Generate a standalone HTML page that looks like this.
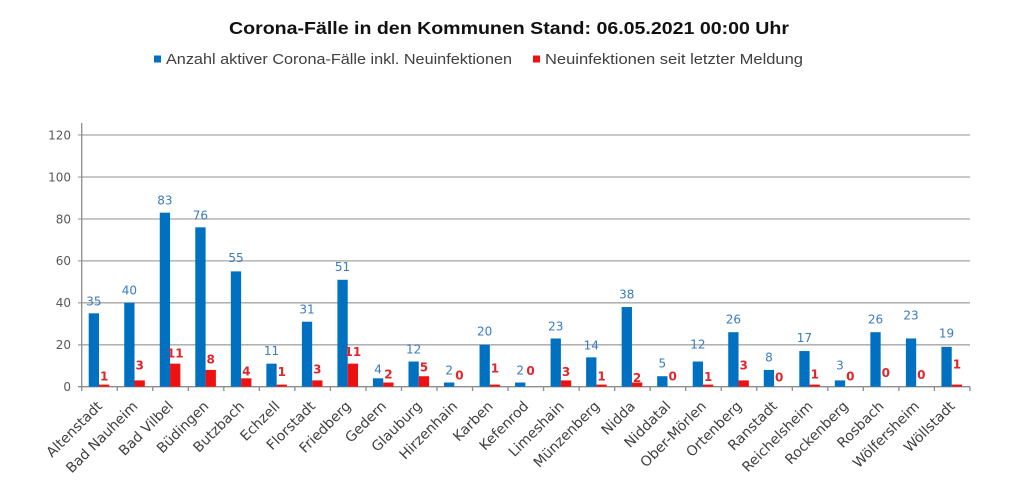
<!DOCTYPE html>
<html><head><meta charset="utf-8"><style>
html,body{margin:0;padding:0;background:#fff;}
svg{display:block;}
</style></head><body>
<svg width="1024" height="488" viewBox="0 0 1024 488" xmlns="http://www.w3.org/2000/svg">
<rect width="1024" height="488" fill="#fff"/>
<text x="229" y="34" font-family="Liberation Sans, sans-serif" font-weight="bold" font-size="17.5" fill="#111" textLength="560" lengthAdjust="spacingAndGlyphs">Corona-Fälle in den Kommunen Stand: 06.05.2021 00:00 Uhr</text>
<rect x="154" y="55.5" width="7" height="7" fill="#0070c0"/>
<text x="166" y="64" font-family="Liberation Sans, sans-serif" font-size="14.5" fill="#404040" textLength="346" lengthAdjust="spacingAndGlyphs">Anzahl aktiver Corona-Fälle inkl. Neuinfektionen</text>
<rect x="533" y="55.5" width="7" height="7" fill="#ee1111"/>
<text x="545" y="64" font-family="Liberation Sans, sans-serif" font-size="14.5" fill="#404040" textLength="258" lengthAdjust="spacingAndGlyphs">Neuinfektionen seit letzter Meldung</text>
<g stroke="#a6a6a6" stroke-width="1.3">
<line x1="78" y1="135" x2="970" y2="135"/>
<line x1="78" y1="177" x2="970" y2="177"/>
<line x1="78" y1="219" x2="970" y2="219"/>
<line x1="78" y1="260.9" x2="970" y2="260.9"/>
<line x1="78" y1="302.8" x2="970" y2="302.8"/>
<line x1="78" y1="344.8" x2="970" y2="344.8"/>
</g>
<g stroke="#8c8c8c" stroke-width="1.3">
<line x1="81.7" y1="123" x2="81.7" y2="387"/>
<line x1="78" y1="386.7" x2="970" y2="386.7"/>
<line x1="81.7" y1="386.7" x2="81.7" y2="391"/>
<line x1="117.23" y1="386.7" x2="117.23" y2="391"/>
<line x1="152.76" y1="386.7" x2="152.76" y2="391"/>
<line x1="188.29" y1="386.7" x2="188.29" y2="391"/>
<line x1="223.82" y1="386.7" x2="223.82" y2="391"/>
<line x1="259.35" y1="386.7" x2="259.35" y2="391"/>
<line x1="294.88" y1="386.7" x2="294.88" y2="391"/>
<line x1="330.41" y1="386.7" x2="330.41" y2="391"/>
<line x1="365.94" y1="386.7" x2="365.94" y2="391"/>
<line x1="401.47" y1="386.7" x2="401.47" y2="391"/>
<line x1="437" y1="386.7" x2="437" y2="391"/>
<line x1="472.53" y1="386.7" x2="472.53" y2="391"/>
<line x1="508.06" y1="386.7" x2="508.06" y2="391"/>
<line x1="543.59" y1="386.7" x2="543.59" y2="391"/>
<line x1="579.12" y1="386.7" x2="579.12" y2="391"/>
<line x1="614.65" y1="386.7" x2="614.65" y2="391"/>
<line x1="650.18" y1="386.7" x2="650.18" y2="391"/>
<line x1="685.71" y1="386.7" x2="685.71" y2="391"/>
<line x1="721.24" y1="386.7" x2="721.24" y2="391"/>
<line x1="756.77" y1="386.7" x2="756.77" y2="391"/>
<line x1="792.3" y1="386.7" x2="792.3" y2="391"/>
<line x1="827.83" y1="386.7" x2="827.83" y2="391"/>
<line x1="863.36" y1="386.7" x2="863.36" y2="391"/>
<line x1="898.89" y1="386.7" x2="898.89" y2="391"/>
<line x1="934.42" y1="386.7" x2="934.42" y2="391"/>
<line x1="969.95" y1="386.7" x2="969.95" y2="391"/>
</g>
<g font-family="DejaVu Sans, sans-serif" font-size="12" fill="#595959" text-anchor="end">
<text x="71" y="139.3">120</text>
<text x="71" y="181.3">100</text>
<text x="71" y="223.3">80</text>
<text x="71" y="265.2">60</text>
<text x="71" y="307.1">40</text>
<text x="71" y="349.1">20</text>
<text x="71" y="391">0</text>
</g>
<g fill="#0070c0">
<rect x="88.7" y="313.32" width="10.3" height="73.38"/>
<rect x="124.23" y="302.83" width="10.3" height="83.87"/>
<rect x="159.76" y="212.67" width="10.3" height="174.03"/>
<rect x="195.29" y="227.35" width="10.3" height="159.35"/>
<rect x="230.82" y="271.38" width="10.3" height="115.32"/>
<rect x="266.35" y="363.64" width="10.3" height="23.06"/>
<rect x="301.88" y="321.7" width="10.3" height="65"/>
<rect x="337.41" y="279.77" width="10.3" height="106.93"/>
<rect x="372.94" y="378.31" width="10.3" height="8.39"/>
<rect x="408.47" y="361.54" width="10.3" height="25.16"/>
<rect x="444" y="382.51" width="10.3" height="4.19"/>
<rect x="479.53" y="344.77" width="10.3" height="41.93"/>
<rect x="515.06" y="382.51" width="10.3" height="4.19"/>
<rect x="550.59" y="338.48" width="10.3" height="48.22"/>
<rect x="586.12" y="357.35" width="10.3" height="29.35"/>
<rect x="621.65" y="307.03" width="10.3" height="79.67"/>
<rect x="657.18" y="376.22" width="10.3" height="10.48"/>
<rect x="692.71" y="361.54" width="10.3" height="25.16"/>
<rect x="728.24" y="332.19" width="10.3" height="54.51"/>
<rect x="763.77" y="369.93" width="10.3" height="16.77"/>
<rect x="799.3" y="351.06" width="10.3" height="35.64"/>
<rect x="834.83" y="380.41" width="10.3" height="6.29"/>
<rect x="870.36" y="332.19" width="10.3" height="54.51"/>
<rect x="905.89" y="338.48" width="10.3" height="48.22"/>
<rect x="941.42" y="346.86" width="10.3" height="39.84"/>
</g>
<g fill="#ee1111">
<rect x="99" y="384.6" width="10.3" height="2.1"/>
<rect x="134.53" y="380.41" width="10.3" height="6.29"/>
<rect x="170.06" y="363.64" width="10.3" height="23.06"/>
<rect x="205.59" y="369.93" width="10.3" height="16.77"/>
<rect x="241.12" y="378.31" width="10.3" height="8.39"/>
<rect x="276.65" y="384.6" width="10.3" height="2.1"/>
<rect x="312.18" y="380.41" width="10.3" height="6.29"/>
<rect x="347.71" y="363.64" width="10.3" height="23.06"/>
<rect x="383.24" y="382.51" width="10.3" height="4.19"/>
<rect x="418.77" y="376.22" width="10.3" height="10.48"/>
<rect x="489.83" y="384.6" width="10.3" height="2.1"/>
<rect x="560.89" y="380.41" width="10.3" height="6.29"/>
<rect x="596.42" y="384.6" width="10.3" height="2.1"/>
<rect x="631.95" y="382.51" width="10.3" height="4.19"/>
<rect x="703.01" y="384.6" width="10.3" height="2.1"/>
<rect x="738.54" y="380.41" width="10.3" height="6.29"/>
<rect x="809.6" y="384.6" width="10.3" height="2.1"/>
<rect x="951.72" y="384.6" width="10.3" height="2.1"/>
</g>
<g font-family="DejaVu Sans, sans-serif" font-size="12" fill="#3a7bbf" text-anchor="middle">
<text x="93.85" y="305.3">35</text>
<text x="129.38" y="294.3">40</text>
<text x="164.91" y="204.3">83</text>
<text x="200.44" y="219.3">76</text>
<text x="235.97" y="262">55</text>
<text x="271.5" y="355">11</text>
<text x="307.03" y="313.3">31</text>
<text x="342.56" y="271">51</text>
<text x="378.09" y="373.3">4</text>
<text x="413.62" y="353.3">12</text>
<text x="449.15" y="374.3">2</text>
<text x="484.68" y="335.3">20</text>
<text x="520.21" y="374.3">2</text>
<text x="555.74" y="330.3">23</text>
<text x="591.27" y="349.3">14</text>
<text x="626.8" y="298.6">38</text>
<text x="662.33" y="367.6">5</text>
<text x="697.86" y="348.3">12</text>
<text x="733.39" y="323.6">26</text>
<text x="768.92" y="361.6">8</text>
<text x="804.45" y="342">17</text>
<text x="839.98" y="369.6">3</text>
<text x="875.51" y="323.6">26</text>
<text x="911.04" y="319.3">23</text>
<text x="946.57" y="337.6">19</text>
</g>
<g font-family="DejaVu Sans, sans-serif" font-size="12" font-weight="bold" fill="#e0262b" text-anchor="middle">
<text x="104.15" y="380.3">1</text>
<text x="139.68" y="369.3">3</text>
<text x="175.21" y="357.3">11</text>
<text x="210.74" y="363.3">8</text>
<text x="246.27" y="375.3">4</text>
<text x="281.8" y="376">1</text>
<text x="317.33" y="373.3">3</text>
<text x="352.86" y="356">11</text>
<text x="388.39" y="378.3">2</text>
<text x="423.92" y="371.6">5</text>
<text x="459.45" y="379.3">0</text>
<text x="494.98" y="372.6">1</text>
<text x="530.51" y="375">0</text>
<text x="566.04" y="376">3</text>
<text x="601.57" y="380.3">1</text>
<text x="637.1" y="382">2</text>
<text x="672.63" y="380.3">0</text>
<text x="708.16" y="381">1</text>
<text x="743.69" y="369.3">3</text>
<text x="779.22" y="381.6">0</text>
<text x="814.75" y="378.6">1</text>
<text x="850.28" y="380.3">0</text>
<text x="885.81" y="377">0</text>
<text x="921.34" y="379">0</text>
<text x="956.87" y="368.3">1</text>
</g>
<g font-family="DejaVu Sans, sans-serif" font-size="14" fill="#404040" text-anchor="end">
<text transform="translate(103,407) rotate(-45)">Altenstadt</text>
<text transform="translate(138.5,407) rotate(-45)">Bad Nauheim</text>
<text transform="translate(174,407) rotate(-45)">Bad Vilbel</text>
<text transform="translate(209.5,407) rotate(-45)">Büdingen</text>
<text transform="translate(245.1,407) rotate(-45)">Butzbach</text>
<text transform="translate(280.6,407) rotate(-45)">Echzell</text>
<text transform="translate(316.1,407) rotate(-45)">Florstadt</text>
<text transform="translate(351.7,407) rotate(-45)">Friedberg</text>
<text transform="translate(387.2,407) rotate(-45)">Gedern</text>
<text transform="translate(422.7,407) rotate(-45)">Glauburg</text>
<text transform="translate(458.3,407) rotate(-45)">Hirzenhain</text>
<text transform="translate(493.8,407) rotate(-45)">Karben</text>
<text transform="translate(529.3,407) rotate(-45)">Kefenrod</text>
<text transform="translate(564.9,407) rotate(-45)">Limeshain</text>
<text transform="translate(600.4,407) rotate(-45)">Münzenberg</text>
<text transform="translate(635.9,407) rotate(-45)">Nidda</text>
<text transform="translate(671.5,407) rotate(-45)">Niddatal</text>
<text transform="translate(707,407) rotate(-45)">Ober-Mörlen</text>
<text transform="translate(742.5,407) rotate(-45)">Ortenberg</text>
<text transform="translate(778,407) rotate(-45)">Ranstadt</text>
<text transform="translate(813.6,407) rotate(-45)">Reichelsheim</text>
<text transform="translate(849.1,407) rotate(-45)">Rockenberg</text>
<text transform="translate(884.6,407) rotate(-45)">Rosbach</text>
<text transform="translate(920.2,407) rotate(-45)">Wölfersheim</text>
<text transform="translate(955.7,407) rotate(-45)">Wöllstadt</text>
</g>
</svg>
</body></html>
